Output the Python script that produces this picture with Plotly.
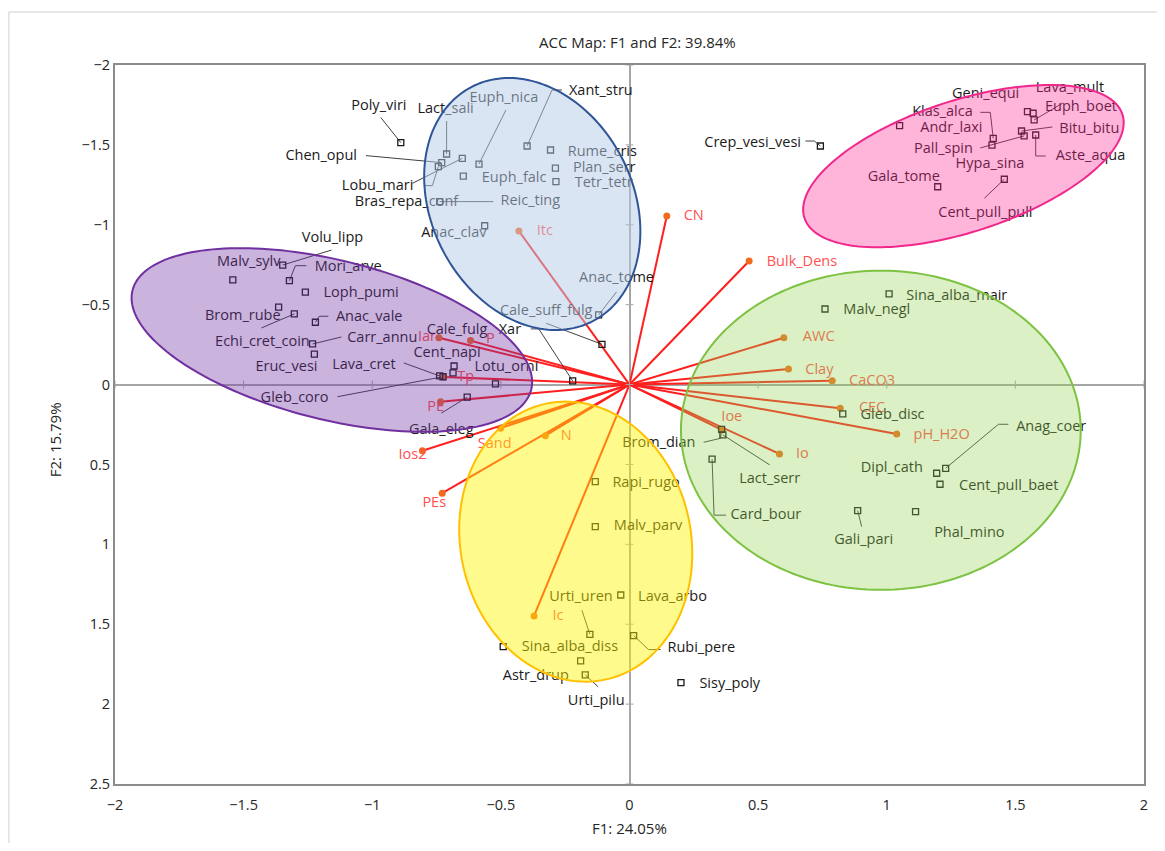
import numpy as np
import plotly.graph_objects as go

# ---------------- data ----------------
species = [
    "Poly_viri", "Lact_sali", "Chen_opul", "Lobu_mari", "Bras_repa_conf", "Reic_ting", "Euph_nica",
    "Xant_stru", "Rume_cris", "Plan_serr", "Tetr_tetr", "Euph_falc", "Anac_clav", "Anac_tome",
    "Cale_suff_fulg", "Xar",
    "Crep_vesi_vesi", "Gala_tome", "Andr_laxi", "Klas_alca", "Hypa_sina", "Pall_spin", "Bitu_bitu",
    "Aste_aqua", "Geni_equi", "Lava_mult", "Euph_boet", "Cent_pull_pull",
    "Volu_lipp", "Malv_sylv", "Mori_arve", "Loph_pumi", "Brom_rube", "Echi_cret_coin", "Anac_vale",
    "Carr_annu", "Eruc_vesi", "Cent_napi", "Cale_fulg", "Lava_cret", "Gleb_coro", "Lotu_orni", "Gala_eleg",
    "Sina_alba_mair", "Malv_negl", "Gleb_disc", "Brom_dian", "Lact_serr", "Card_bour", "Anag_coer",
    "Dipl_cath", "Cent_pull_baet", "Gali_pari", "Phal_mino",
    "Rapi_rugo", "Malv_parv", "Urti_uren", "Lava_arbo", "Rubi_pere", "Sina_alba_diss", "Astr_drup",
    "Urti_pilu", "Sisy_poly",
]
species_f1 = [
    -0.889, -0.711, -0.730, -0.743, -0.650, -0.738, -0.585, -0.398, -0.307, -0.288, -0.286, -0.646,
    -0.563, -0.120, -0.107, -0.221,
    0.742, 1.198, 1.050, 1.414, 1.409, 1.534, 1.524, 1.579, 1.547, 1.569, 1.573, 1.457,
    -1.348, -1.542, -1.322, -1.260, -1.364, -1.303, -1.221, -1.232, -1.225, -0.682, -0.686, -0.738,
    -0.725, -0.521, -0.631,
    1.009, 0.760, 0.829, 0.358, 0.363, 0.321, 1.229, 1.194, 1.207, 0.887, 1.112,
    -0.133, -0.133, -0.154, -0.034, 0.016, -0.491, -0.190, -0.172, 0.200,
]
species_f2 = [
    -1.514, -1.443, -1.389, -1.364, -1.416, -1.145, -1.380, -1.493, -1.468, -1.354, -1.270, -1.305,
    -0.994, -0.436, -0.252, -0.023,
    -1.493, -1.238, -1.620, -1.541, -1.499, -1.556, -1.587, -1.562, -1.708, -1.698, -1.656, -1.285,
    -0.748, -0.655, -0.650, -0.579, -0.484, -0.442, -0.390, -0.254, -0.191, -0.116, -0.073, -0.054,
    -0.049, -0.004, 0.079,
    -0.567, -0.473, 0.184, 0.280, 0.315, 0.467, 0.524, 0.555, 0.624, 0.789, 0.795,
    0.608, 0.889, 1.563, 1.317, 1.571, 1.640, 1.730, 1.817, 1.865,
]

env_vars = ["Itc", "CN", "Bulk_Dens", "AWC", "Clay", "CaCO3", "CEC", "pH_H2O", "Ioe", "Io",
            "N", "Sand", "Ios2", "PEs", "Ic", "PE", "Tp", "P", "Iar"]
env_f1 = [-0.430, 0.145, 0.465, 0.600, 0.618, 0.788, 0.819, 1.039, 0.359, 0.583,
          -0.327, -0.501, -0.805, -0.728, -0.371, -0.734, -0.722, -0.618, -0.741]
env_f2 = [-0.961, -1.055, -0.773, -0.293, -0.098, -0.024, 0.148, 0.309, 0.284, 0.434,
          0.320, 0.273, 0.414, 0.680, 1.448, 0.107, -0.048, -0.275, -0.293]

x_ticks = [-2, -1.5, -1, -0.5, 0, 0.5, 1, 1.5, 2]
y_ticks = [-2, -1.5, -1, -0.5, 0, 0.5, 1, 1.5, 2, 2.5]

# ---------------- layout (pixels; page body adds an 8 px offset) ----------------
OFF = 8
W, H = 1165 - 2 * OFF, 851 - 2 * OFF
ML, MT = 115 - OFF, 65 - OFF
PLOT_W, PLOT_H = 1033, 719
MR, MB = W - ML - PLOT_W, H - MT - PLOT_H
PX_X = PLOT_W / 4.0      # pixels per F1 unit
PX_Y = PLOT_H / 4.5      # pixels per F2 unit

# label offsets (pixels from the point: dx right, dy down) and leader-line bend points
label_off = {
    "Poly_viri": (-22, -36), "Lact_sali": (-1, -45), "Chen_opul": (-121, -6), "Lobu_mari": (-61, 20),
    "Bras_repa_conf": (-56, 44), "Reic_ting": (91, 0), "Euph_nica": (25, -66), "Xant_stru": (74, -55),
    "Rume_cris": (52, 2), "Plan_serr": (49, 0), "Tetr_tetr": (48, 2), "Euph_falc": (51, 2),
    "Anac_clav": (-31, 8), "Anac_tome": (18, -37), "Cale_suff_fulg": (-56, -33), "Xar": (-63, -51),
    "Crep_vesi_vesi": (-68, -3), "Gala_tome": (-34, -9), "Andr_laxi": (52, 3), "Klas_alca": (-51, -26),
    "Hypa_sina": (-2, 19), "Pall_spin": (-81, 13), "Bitu_bitu": (68, -2), "Aste_aqua": (55, 21),
    "Geni_equi": (-42, -17), "Lava_mult": (37, -25), "Euph_boet": (47, -13), "Cent_pull_pull": (-19, 34),
    "Volu_lipp": (50, -27), "Malv_sylv": (16, -18), "Mori_arve": (59, -13), "Loph_pumi": (56, 1),
    "Brom_rube": (-36, 9), "Echi_cret_coin": (-32, 28), "Anac_vale": (54, -5), "Carr_annu": (70, -6),
    "Eruc_vesi": (-28, 13), "Cent_napi": (-7, -13), "Cale_fulg": (4, -43), "Lava_cret": (-76, -11),
    "Gleb_coro": (-149, 22), "Lotu_orni": (11, -17), "Gala_eleg": (-26, 33),
    "Sina_alba_mair": (68, 2), "Malv_negl": (52, 1), "Gleb_disc": (50, 1), "Brom_dian": (-63, 14),
    "Lact_serr": (47, 44), "Card_bour": (54, 56), "Anag_coer": (106, -41), "Dipl_cath": (-45, -5),
    "Cent_pull_baet": (69, 2), "Gali_pari": (6, 30), "Phal_mino": (54, 22),
    "Rapi_rugo": (51, 2), "Malv_parv": (53, 0), "Urti_uren": (-9, -37), "Lava_arbo": (52, 2),
    "Rubi_pere": (68, 13), "Sina_alba_diss": (67, 1), "Astr_drup": (-45, 15), "Urti_pilu": (11, 27),
    "Sisy_poly": (49, 2),
}
leaders = {
    "Poly_viri": [(-20, -25)], "Lact_sali": [(0, -33)], "Chen_opul": [(-76, -7)],
    "Lobu_mari": [(-6, 19), (-14, 19)], "Bras_repa_conf": [(-50, 25)], "Reic_ting": [(54, 0)],
    "Euph_nica": [(27, -54)], "Xant_stru": [(25, -56), (35, -56)], "Anac_tome": [(18, -23)],
    "Cale_suff_fulg": [(-56, -21)], "Xar": [(-34, -52), (-42, -52)],
    "Crep_vesi_vesi": [(-6, -5), (-15, -5)], "Klas_alca": [(-3, -26), (-13, -26)],
    "Pall_spin": [(-44, 12)], "Bitu_bitu": [(31, -4)], "Aste_aqua": [(0, 21), (10, 21)],
    "Euph_boet": [(29, -17)], "Cent_pull_pull": [(-20, 19)], "Volu_lipp": [(49, -15)],
    "Mori_arve": [(6, -15), (17, -15)], "Echi_cret_coin": [(-33, 14)], "Anac_vale": [(4, -6), (13, -6)],
    "Carr_annu": [(29, -7)], "Lava_cret": [(-36, -13)], "Gleb_coro": [(-106, 20)],
    "Gala_eleg": [(-26, 16)], "Brom_dian": [(-1, 9), (-18, 13)], "Lact_serr": [(47, 30)],
    "Card_bour": [(2, 56), (14, 56)], "Anag_coer": [(53, -44), (63, -44)], "Gali_pari": [(4, 16)],
    "Urti_uren": [(-8, -24)], "Rubi_pere": [(15, 14), (27, 14)], "Urti_pilu": [(13, 12)],
}
env_label_off = {
    "Itc": (26, 0), "CN": (27, 0), "Bulk_Dens": (53, 1), "AWC": (35, 0), "Clay": (31, 1),
    "CaCO3": (40, 1), "CEC": (32, 0), "pH_H2O": (45, 1), "Ioe": (10, -13), "Io": (23, 0),
    "N": (21, 1), "Sand": (-6, 16), "Ios2": (-10, 5), "PEs": (-8, 10), "Ic": (24, 0),
    "PE": (-5, 6), "Tp": (22, 0), "P": (20, -1), "Iar": (-12, 0),
}

# group ellipses: centre, two conjugate semi-axis vectors (data units)
ellipses = [
    dict(c=(-0.378, -1.130), a=(0.237, 0.732), b=(-0.347, 0.293),
         fill="rgba(181,203,231,0.5)", line="#2F5597"),
    dict(c=(-1.157, -0.279), a=(0.775, 0.310), b=(-0.074, 0.484),
         fill="rgba(112,48,160,0.37)", line="#7030A0"),
    dict(c=(1.298, -1.367), a=(0.618, -0.324), b=(0.079, 0.391),
         fill="rgba(255,40,150,0.35)", line="#F0288C"),
    dict(c=(0.977, 0.286), a=(0.777, 0.0), b=(0.0, 0.999),
         fill="rgba(146,208,80,0.33)", line="#7DC242"),
    dict(c=(-0.209, 0.983), a=(0.119, 0.862), b=(0.437, -0.158),
         fill="rgba(255,245,0,0.45)", line="#FFC000"),
]

FONT = "Open Sans, Noto Sans, sans-serif"
FS = 14.5

fig = go.Figure()

# env vectors
lx, ly = [], []
for x, y in zip(env_f1, env_f2):
    lx += [0, x, None]
    ly += [0, y, None]
fig.add_trace(go.Scatter(x=lx, y=ly, mode="lines", line=dict(color="#FF1F1F", width=2),
                         hoverinfo="skip", showlegend=False))

# zero-line tick marks
tx, ty = [], []
hy = 4 / PX_Y
hx = 4 / PX_X
for v in x_ticks:
    tx += [v, v, None]
    ty += [-hy, hy, None]
for v in y_ticks:
    tx += [-hx, hx, None]
    ty += [v, v, None]
fig.add_trace(go.Scatter(x=tx, y=ty, mode="lines", line=dict(color="#A6A6A6", width=1),
                         hoverinfo="skip", showlegend=False))

# leader lines
ldx, ldy = [], []
for name, x, y in zip(species, species_f1, species_f2):
    if name in leaders:
        ldx.append(x)
        ldy.append(y)
        for dx, dy in leaders[name]:
            ldx.append(x + dx / PX_X)
            ldy.append(y + dy / PX_Y)
        ldx.append(None)
        ldy.append(None)
fig.add_trace(go.Scatter(x=ldx, y=ldy, mode="lines", line=dict(color="#404040", width=1),
                         hoverinfo="skip", showlegend=False))

# env points
fig.add_trace(go.Scatter(x=env_f1, y=env_f2, mode="markers",
                         marker=dict(color="#F26B1D", size=7), showlegend=False))
# env labels
fig.add_trace(go.Scatter(
    x=[x + env_label_off[n][0] / PX_X for n, x in zip(env_vars, env_f1)],
    y=[y + env_label_off[n][1] / PX_Y for n, y in zip(env_vars, env_f2)],
    mode="text", text=env_vars, textposition="middle center",
    textfont=dict(family=FONT, size=FS, color="#FF5050"), showlegend=False, cliponaxis=False))

# species points
fig.add_trace(go.Scatter(x=species_f1, y=species_f2, mode="markers",
                         marker=dict(symbol="square-open", color="#1A1A1A", size=6,
                                     line=dict(width=1.3)),
                         showlegend=False))
# species labels
fig.add_trace(go.Scatter(
    x=[x + label_off[n][0] / PX_X for n, x in zip(species, species_f1)],
    y=[y + label_off[n][1] / PX_Y for n, y in zip(species, species_f2)],
    mode="text", text=species, textposition="middle center",
    textfont=dict(family=FONT, size=FS, color="#1A1A1A"), showlegend=False, cliponaxis=False))

# ellipses (drawn above, semi-transparent, like the original overlay shapes)
t = np.linspace(0, 2 * np.pi, 181)
shapes = []
for e in ellipses:
    cx, cy = e["c"]
    ax_, ay_ = e["a"]
    bx_, by_ = e["b"]
    px = cx + ax_ * np.cos(t) + bx_ * np.sin(t)
    py = cy + ay_ * np.cos(t) + by_ * np.sin(t)
    path = "M " + " L ".join(f"{a:.4f},{b:.4f}" for a, b in zip(px, py)) + " Z"
    shapes.append(dict(type="path", path=path, xref="x", yref="y", layer="above",
                       fillcolor=e["fill"], line=dict(color=e["line"], width=2)))

# outer chart-area border
shapes.append(dict(type="rect", xref="paper", yref="paper",
                   x0=(0.5 - ML) / PLOT_W, x1=(W + 20 - ML) / PLOT_W,
                   y0=-(MB + 20) / PLOT_H, y1=1 + (MT - (12 - OFF)) / PLOT_H,
                   line=dict(color="#D0D0D0", width=1), fillcolor="rgba(0,0,0,0)", layer="below"))


def px_to_paper_x(px):
    return (px - OFF - ML) / PLOT_W


def px_to_paper_y(py):
    return (MT + PLOT_H - (py - OFF)) / PLOT_H


fig.update_layout(
    width=W, height=H,
    margin=dict(l=ML, r=MR, t=MT, b=MB),
    paper_bgcolor="white", plot_bgcolor="white",
    font=dict(family=FONT, size=FS, color="#262626"),
    shapes=shapes,
    showlegend=False,
    annotations=[
        dict(text="ACC Map: F1 and F2: 39.84%", xref="paper", yref="paper",
             x=px_to_paper_x(640), y=px_to_paper_y(42),
             xanchor="center", yanchor="middle", showarrow=False,
             font=dict(family=FONT, size=15, color="#262626")),
        dict(text="F1: 24.05%", xref="paper", yref="paper",
             x=px_to_paper_x(631), y=px_to_paper_y(828),
             xanchor="center", yanchor="middle", showarrow=False,
             font=dict(family=FONT, size=15, color="#262626")),
        dict(text="F2: 15.79%", xref="paper", yref="paper", textangle=-90,
             x=px_to_paper_x(55), y=px_to_paper_y(440),
             xanchor="center", yanchor="middle", showarrow=False,
             font=dict(family=FONT, size=15, color="#262626")),
    ],
)
fig.update_xaxes(range=[-2, 2], tickvals=x_ticks, ticktext=[f"{v:g}".replace("-", "\u2212") for v in x_ticks],
                 showgrid=False, zeroline=True, zerolinecolor="#A6A6A6", zerolinewidth=1.5,
                 showline=True, mirror=True, linecolor="#8C8C8C", linewidth=2, ticks="",
                 ticklabelstandoff=7,
                 tickfont=dict(family=FONT, size=14.5, color="#262626"))
fig.update_yaxes(range=[2.5, -2], tickvals=y_ticks, ticktext=[f"{v:g}".replace("-", "\u2212") for v in y_ticks],
                 showgrid=False, zeroline=True, zerolinecolor="#A6A6A6", zerolinewidth=1.5,
                 showline=True, mirror=True, linecolor="#8C8C8C", linewidth=2, ticks="",
                 tickfont=dict(family=FONT, size=14.5, color="#262626"))

fig.write_html("out.html")
